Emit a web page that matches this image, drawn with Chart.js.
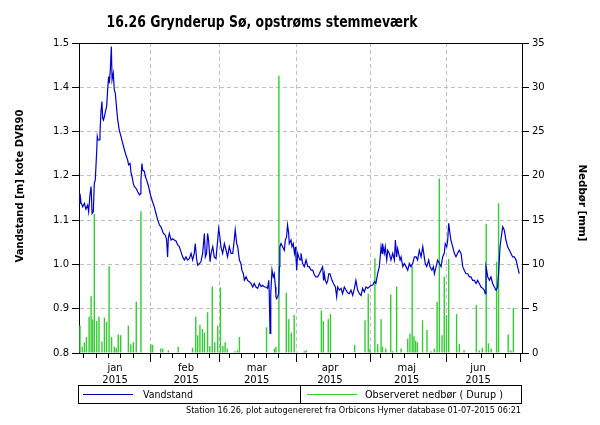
<!DOCTYPE html>
<html><head><meta charset="utf-8">
<script src="https://cdn.jsdelivr.net/npm/chart.js@4.4.1/dist/chart.umd.min.js"></script>
<style>html,body{margin:0;padding:0;background:#fff}canvas{display:block}</style>
</head><body>
<canvas id="c" width="600" height="425"></canvas>
<script>
// ---- data (x = days since 1 Jan 2015) ----
const levelDays = [1.9,2.1,2.4,2.8,3.5,4.2,4.8,5.5,5.9,6.5,6.9,7.3,7.8,8.2,8.6,9.2,9.4,9.7,10.2,10.5,10.9,11.3,11.6,11.9,12.3,12.7,13.2,13.6,14.0,14.3,14.7,15.1,15.4,15.9,16.3,16.7,17.3,17.7,18.3,19.0,19.7,20.4,21.0,21.7,22.1,22.7,23.1,23.5,24.0,24.4,25.1,25.8,26.5,26.9,27.1,27.5,27.8,28.5,28.9,29.4,30.2,30.8,31.6,32.5,33.2,33.9,34.6,35.2,36.2,37.0,37.5,37.9,38.2,
38.6,39.3,39.95,40.6,41.3,42.0,42.65,43.3,44.0,44.7,45.35,46.0,46.7,47.4,48.05,48.7,49.1,49.7,50.1,50.8,51.4,52.1,52.8,53.2,53.7,54.1,54.5,55.1,55.5,56.2,56.8,57.5,58.2,58.6,59.1,59.5,60.2,60.9,61.6,62.2,62.9,63.6,64.3,64.9,65.3,65.9,66.3,67.0,67.6,68.0,68.6,69.0,69.7,70.3,71.0,71.7,72.4,73.0,73.7,74.4,
75.1,75.8,76.4,77.1,77.8,78.4,78.9,79.1,79.4,79.7,80.2,80.7,81.1,81.6,81.8,82.1,82.5,82.9,83.2,83.4,83.85,84.5,85.2,85.6,86.1,86.5,86.96,87.2,87.9,88.3,88.8,89.3,89.7,89.9,90.2,90.6,91.0,91.55,91.95,92.6,93.3,94.0,94.7,95.3,96.0,96.7,97.4,98.0,98.7,99.4,100.05,100.7,101.1,101.4,101.8,102.35,102.8,103.2,103.7,104.1,104.5,105.1,105.9,106.4,106.8,107.5,108.2,108.8,109.5,110.2,
110.9,111.5,112.2,112.9,113.6,114.2,114.9,115.6,116.3,116.9,117.6,118.3,119.0,119.6,120.3,121.0,121.7,122.3,123.0,123.7,124.4,124.8,125.0,125.7,126.1,126.7,127.1,127.75,128.4,129.1,129.8,130.2,130.7,131.1,131.5,132.1,132.5,133.2,133.8,134.5,135.2,135.85,136.5,137.2,137.9,138.6,139.2,139.9,140.6,141.3,141.9,142.3,142.9,143.7,144.2,145.0,145.6,146.0,146.7,147.3,
148.0,148.7,149.35,150.0,150.4,151.0,151.4,151.8,152.3,152.7,153.4,154.1,154.75,155.4,156.1,156.8,157.5,158.1,158.8,159.5,160.2,160.8,161.5,162.2,162.9,163.5,164.2,164.9,165.6,166.2,166.6,166.9,167.2,167.6,168.3,168.9,169.6,170.3,171.0,171.6,172.0,172.6,173.1,173.7,174.3,175.0,175.7,176.4,177.0,177.7,178.4,179.1,179.7,180.4];
const levelValues = [1.168,1.138,1.160,1.140,1.130,1.138,1.125,1.134,1.119,1.160,1.176,1.115,1.119,1.183,1.191,1.259,1.289,1.281,1.281,1.296,1.345,1.368,1.330,1.326,1.334,1.345,1.357,1.394,1.424,1.409,1.440,1.492,1.417,1.432,1.394,1.387,1.349,1.326,1.304,1.289,1.274,1.259,1.247,1.236,1.225,1.228,1.206,1.198,1.183,1.176,1.172,1.164,1.157,1.160,1.191,1.228,1.213,1.210,1.198,1.191,1.176,1.160,1.145,1.130,1.115,1.100,1.089,1.085,1.070,1.066,1.055,1.017,1.060,
1.070,1.055,1.058,1.055,1.053,1.044,1.040,1.029,1.017,1.010,1.017,1.010,1.013,1.025,1.010,1.025,1.047,1.010,0.998,1.002,1.006,1.025,1.070,1.017,1.025,1.070,1.055,1.006,1.025,1.040,1.017,1.013,1.055,1.081,1.062,1.040,1.025,1.047,1.032,1.017,1.040,1.025,1.025,1.055,1.078,1.047,1.040,1.010,1.002,0.987,0.979,0.964,0.972,0.964,0.961,0.957,0.949,0.957,0.949,0.946,
0.957,0.950,0.953,0.949,0.949,0.946,0.964,0.934,0.844,0.934,0.987,0.972,0.979,0.949,0.927,0.923,0.927,0.934,0.995,1.040,1.047,1.040,1.032,1.055,1.062,1.089,1.070,1.047,1.055,1.040,1.047,1.025,1.040,1.017,0.987,1.025,1.017,1.010,1.025,1.002,0.995,1.010,0.995,0.995,0.987,0.987,0.976,0.972,0.972,0.979,0.987,0.995,0.964,0.979,0.964,0.957,0.964,0.979,0.979,0.972,0.964,0.957,0.949,0.927,0.949,0.942,0.946,0.934,0.949,0.942,
0.936,0.934,0.942,0.930,0.946,0.964,0.942,0.934,0.930,0.946,0.938,0.949,0.946,0.949,0.953,0.953,0.961,0.957,0.979,0.995,1.040,1.025,1.047,1.025,1.040,1.010,1.032,1.025,1.010,1.025,1.010,1.055,1.017,1.036,1.025,1.010,1.017,0.995,1.002,0.995,0.987,1.002,0.995,1.002,1.017,1.017,1.010,1.032,1.017,1.040,1.017,1.002,0.995,1.010,0.995,0.987,0.995,0.979,0.995,1.010,
1.002,0.995,1.017,1.025,1.047,1.040,1.055,1.093,1.070,1.055,1.040,1.025,1.017,1.025,1.032,1.025,0.995,0.987,0.979,0.979,0.972,0.972,0.964,0.964,0.957,0.964,0.957,0.949,0.946,0.942,0.934,0.995,0.987,0.972,0.964,0.972,0.957,0.949,0.942,0.949,0.979,1.040,1.062,1.085,1.078,1.055,1.040,1.032,1.025,1.017,1.017,1.010,0.995,0.979];

const rainDays = [2.4,3.3,4.2,5.0,6.1,6.9,7.5,8.2,9.2,10.1,11.3,12.3,13.2,14.2,15.2,16.3,17.1,17.9,18.9,22.0,23.0,24.0,25.2,27.1,31.1,31.8,35.1,35.9,38.2,42.2,48.0,49.3,50.1,51.0,52.0,52.8,54.1,55.0,56.0,57.0,58.2,59.3,60.3,61.2,62.1,65.2,66.2,67.0,78.0,81.2,81.8,83.0,86.0,87.0,88.0,89.2,93.3,94.0,100.2,101.0,103.0,103.9,113.7,117.9,119.2,119.9,121.9,123.0,124.4,125.0,126.3,128.3,129.1,130.7,132.5,135.2,136.1,137.0,137.7,138.4,139.1,141.2,143.0,144.6,146.0,147.1,148.0,149.1,150.0,150.9,151.8,155.0,156.1,158.0,163.0,164.2,165.4,167.0,167.9,169.0,171.2,172.0,175.9,177.0,178.0];
const rainValues = [3.1,0.7,1.2,1.8,4.1,6.4,3.8,15.7,3.6,4.1,1.3,4.0,3.5,9.8,1.8,0.7,0.6,2.1,2.0,3.1,1.0,1.2,5.8,16.0,1.0,0.9,0.5,0.5,0.3,0.7,0.6,4.1,2.0,3.2,2.7,2.3,4.6,0.8,7.5,1.2,3.1,7.4,0.8,1.2,0.5,0.2,0.3,1.8,2.9,0.5,0.7,31.3,6.8,3.8,2.3,4.3,0.2,0.3,4.8,3.6,3.8,4.4,0.9,3.7,6.7,0.5,10.7,1.0,3.8,0.7,0.5,6.6,0.2,7.5,0.5,1.6,2.2,9.8,1.9,1.4,1.2,3.7,2.6,0.2,0.5,5.8,19.7,2.0,8.6,4.3,10.6,4.4,1.0,0.3,5.4,0.3,0.6,14.6,1.1,0.5,10.3,16.9,2.1,0.3,5.1];

const monthNames = ['jan','feb','mar','apr','maj','jun'];
const yearLabel = '2015';
const monthLabelDays = [16.6, 45.4, 74, 103.7, 134.8, 163.7];
const monthStartDays = [0, 31, 59, 90, 120, 151, 181];
const minorDaysOfMonth = [5, 10, 15, 20, 25];
const levelTickValues = [0.8, 0.9, 1.0, 1.1, 1.2, 1.3, 1.4, 1.5];
const rainTickValues = [0, 5, 10, 15, 20, 25, 30, 35];

const titleText = '16.26 Grynderup Sø, opstrøms stemmeværk';
const leftTitle = 'Vandstand [m] kote DVR90';
const rightTitle = 'Nedbør [mm]';
const series1Name = 'Vandstand';
const series2Name = 'Observeret nedbør ( Durup )';
const footerText = 'Station 16.26, plot autogenereret fra Orbicons Hymer database 01-07-2015 06:21';

// ---- x tick list ----
const X_MIN = 2.0, X_MAX = 181.5;
const xTicks = [];
monthStartDays.slice(1).forEach(d => xTicks.push({value: d, kind: 'major'}));
for (let m = 0; m < 6; m++) minorDaysOfMonth.forEach(dom => xTicks.push({value: monthStartDays[m] + dom - 1, kind: 'minor'}));
monthLabelDays.forEach((d, i) => xTicks.push({value: d, kind: 'label', label: [monthNames[i], yearLabel]}));
xTicks.sort((a, b) => a.value - b.value);
const xTickList = xTicks.filter(t => t.value >= X_MIN && t.value <= X_MAX);

const FONT = '"DejaVu Sans", Verdana, sans-serif';
const GRID = '#c0c0c0';
const NONE = 'rgba(0,0,0,0)';

function fitText(ctx, text, x, y, font, target, o) {
  ctx.save();
  ctx.font = font;
  const w = ctx.measureText(text).width;
  ctx.translate(x, y);
  if (o.rotate) ctx.rotate(o.rotate);
  ctx.scale(target / w, 1);
  ctx.textAlign = o.align || 'left';
  ctx.textBaseline = o.baseline || 'alphabetic';
  ctx.fillStyle = '#000';
  ctx.fillText(text, 0, 0);
  ctx.restore();
}

const decor = {
  id: 'decor',
  afterDraw(chart) {
    const ctx = chart.ctx, a = chart.chartArea;
    ctx.save();
    ctx.strokeStyle = '#000'; ctx.lineWidth = 1;
    ctx.beginPath(); ctx.moveTo(Math.round(a.left) - 0.5, Math.round(a.top) + 0.5); ctx.lineTo(Math.round(a.right) + 0.5, Math.round(a.top) + 0.5); ctx.stroke();
    // legend box
    ctx.strokeRect(78.5, 385.5, 443, 18);
    ctx.beginPath(); ctx.moveTo(300.5, 385.5); ctx.lineTo(300.5, 403.5); ctx.stroke();
    ctx.strokeStyle = '#0000aa';
    ctx.beginPath(); ctx.moveTo(83, 394.5); ctx.lineTo(133, 394.5); ctx.stroke();
    ctx.strokeStyle = '#33cc33';
    ctx.beginPath(); ctx.moveTo(307, 394.5); ctx.lineTo(357, 394.5); ctx.stroke();
    ctx.restore();
    fitText(ctx, series1Name, 143, 395, '11px ' + FONT, 50, {baseline: 'middle'});
    fitText(ctx, series2Name, 365, 395, '11px ' + FONT, 138, {baseline: 'middle'});
    fitText(ctx, footerText, 521, 410.5, '9px ' + FONT, 335, {align: 'right', baseline: 'middle'});
    fitText(ctx, titleText, 262, 27, 'bold 16px ' + FONT, 311, {align: 'center'});
    fitText(ctx, leftTitle, 20, 186, 'bold 11px ' + FONT, 153, {align: 'center', baseline: 'middle', rotate: -Math.PI / 2});
    fitText(ctx, rightTitle, 581.5, 203, 'bold 11px ' + FONT, 77, {align: 'center', baseline: 'middle', rotate: Math.PI / 2});
  }
};

const edge = v => Math.abs(v - 0.8) < 1e-6 || Math.abs(v - 1.5) < 1e-6;

new Chart(document.getElementById('c'), {
  type: 'line',
  data: {
    datasets: [
      {type: 'line', label: series1Name, data: levelDays.map((d, i) => ({x: d, y: levelValues[i]})),
       borderColor: '#0000cd', borderWidth: 1.2, pointRadius: 0, tension: 0, yAxisID: 'y', xAxisID: 'x', order: 0},
      {type: 'bar', label: series2Name, data: rainDays.map((d, i) => ({x: d, y: rainValues[i]})),
       backgroundColor: '#33cc33', borderWidth: 0, barThickness: 1.4, inflateAmount: 0, yAxisID: 'y1', xAxisID: 'x', order: 1}
    ]
  },
  options: {
    responsive: false, animation: false, devicePixelRatio: 1,
    layout: {padding: {top: 43, left: 0, right: 0, bottom: 0}},
    plugins: {legend: {display: false}, title: {display: false}, tooltip: {enabled: false}},
    scales: {
      x: {
        type: 'linear', position: 'bottom', min: X_MIN, max: X_MAX, offset: false,
        afterBuildTicks: s => { s.ticks = xTickList.map(t => ({value: t.value})); },
        afterFit: s => { s.height = 72; },
        ticks: {autoSkip: false, maxRotation: 0, minRotation: 0, padding: 0, color: '#000',
                font: {family: FONT, size: 10}, callback: (v, i) => xTickList[i] && xTickList[i].kind === 'label' ? xTickList[i].label : ''},
        grid: {offset: false, tickLength: 9, lineWidth: 1, tickWidth: 1,
               color: c => { const t = xTickList[c.index]; return t && t.kind === 'major' && t.value < 181 ? GRID : NONE; },
               tickColor: c => { const t = xTickList[c.index]; return t && t.kind !== 'label' ? '#000' : NONE; },
               tickBorderDash: c => { const t = xTickList[c.index]; return t && t.kind === 'minor' ? [4, 60] : []; }},
        border: {display: true, color: '#000', width: 1, dash: [4, 3]}
      },
      y: {
        type: 'linear', position: 'left', min: 0.8, max: 1.5,
        afterBuildTicks: s => { s.ticks = levelTickValues.map(v => ({value: v})); },
        afterFit: s => { s.width = 79; },
        ticks: {padding: 3, color: '#000', font: {family: FONT, size: 10}, callback: v => v.toFixed(1)},
        grid: {tickLength: 7, lineWidth: 1, tickColor: '#000', color: c => edge(c.tick.value) ? NONE : GRID},
        border: {display: true, color: '#000', width: 1, dash: [4, 3]}
      },
      y1: {
        type: 'linear', position: 'right', min: 0, max: 35,
        afterBuildTicks: s => { s.ticks = rainTickValues.map(v => ({value: v})); },
        afterFit: s => { s.width = 78; },
        ticks: {padding: 3, color: '#000', font: {family: FONT, size: 10}, callback: v => String(v)},
        grid: {drawOnChartArea: false, tickLength: 7, tickColor: '#000'},
        border: {display: true, color: '#000', width: 1}
      }
    }
  },
  plugins: [decor]
});
</script>
</body></html>
